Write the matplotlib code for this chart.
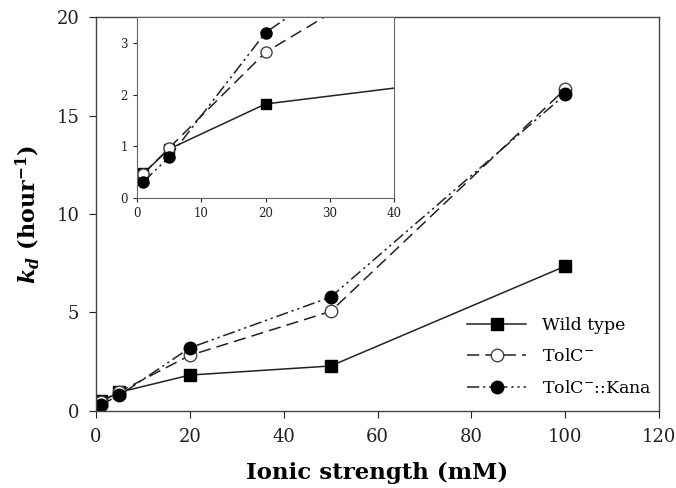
import matplotlib
matplotlib.use("Agg")
import matplotlib.pyplot as plt

plt.rcParams['font.family'] = ['DejaVu Serif']
plt.rcParams['mathtext.fontset'] = 'custom'
plt.rcParams['mathtext.rm'] = 'DejaVu Serif'
plt.rcParams['mathtext.it'] = 'DejaVu Serif:italic:bold'
plt.rcParams['mathtext.bf'] = 'DejaVu Serif:bold'

ionic = [1, 5, 20, 50, 100]
wild_type = [0.48, 0.95, 1.82, 2.28, 7.35]
tolc = [0.47, 0.97, 2.82, 5.05, 16.35]
tolc_kana = [0.32, 0.79, 3.2, 5.78, 16.07]

labels = ["Wild type", "TolC$^{-}$", "TolC$^{-}$::Kana"]

fig = plt.figure(figsize=(6.76, 4.88), dpi=100)
ax = fig.add_axes([0.142, 0.158, 0.833, 0.807])

line_c = '#222222'
styles = [
    dict(ls='-', marker='s', mfc='black', mec='black'),
    dict(ls=(0, (8, 4)), marker='o', mfc='white', mec='#444444'),
    dict(ls=(0, (8, 2.5, 1.5, 2.5, 1.5, 2.5)), marker='o', mfc='black', mec='black'),
]
sizes_main = [8, 9, 9]
sizes_inset = [7, 8, 8]
series = [wild_type, tolc, tolc_kana]

for y, st, ms, lab in zip(series, styles, sizes_main, labels):
    ax.plot(ionic, y, color=line_c, lw=1.1, ms=ms, label=lab, **st)

ax.set_xlim(0, 120)
ax.set_ylim(0, 20)
ax.set_xticks([0, 20, 40, 60, 80, 100, 120])
ax.set_yticks([0, 5, 10, 15, 20])
ax.tick_params(direction='out', length=5, labelsize=13, colors='#222222', pad=7)
for s in ax.spines.values():
    s.set_color('#444444')
    s.set_linewidth(1.0)
ax.set_xlabel("Ionic strength (mM)", fontsize=16.5, fontweight='bold', labelpad=12)
ax.set_ylabel("$k_d$ (hour$^{\\mathbf{-1}}$)", fontsize=16, fontweight='bold', labelpad=10)

leg = ax.legend(loc='lower right', bbox_to_anchor=(1.015, -0.005), frameon=False,
                fontsize=12.5, handlelength=3.4, labelspacing=0.85, handletextpad=0.9)

# inset
axi = fig.add_axes([0.2027, 0.594, 0.3802, 0.371])
for y, st, ms in zip(series, styles, sizes_inset):
    axi.plot(ionic, y, color=line_c, lw=1.1, ms=ms, **st)
axi.set_xlim(0, 40)
axi.set_ylim(0, 3.5)
axi.set_xticks([0, 10, 20, 30, 40])
axi.set_yticks([0, 1, 2, 3])
axi.tick_params(direction='out', length=3, labelsize=8.5, colors='#222222')
for s in axi.spines.values():
    s.set_color('#666666')
    s.set_linewidth(0.8)

fig.savefig("out.png", dpi=100)
